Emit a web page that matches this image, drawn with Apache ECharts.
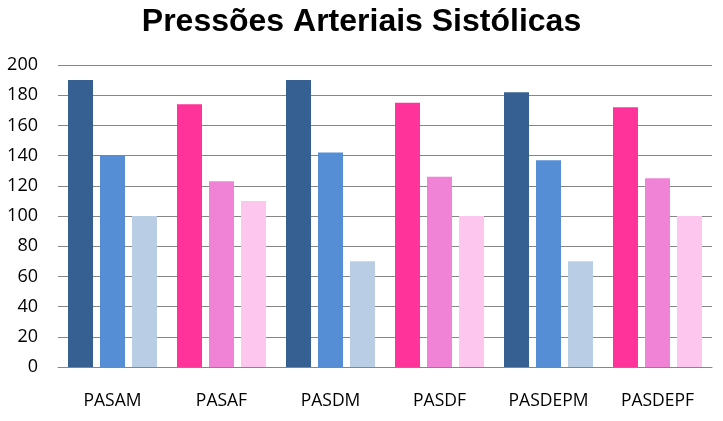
<!DOCTYPE html>
<html>
<head>
<meta charset="utf-8">
<script src="https://cdn.jsdelivr.net/npm/echarts@6/dist/echarts.min.js"></script>
<style>html,body{margin:0;padding:0;background:#fff}#c{width:723px;height:421px}</style>
</head>
<body>
<div id="c"></div>
<script>
const categories = ['PASAM', 'PASAF', 'PASDM', 'PASDF', 'PASDEPM', 'PASDEPF'];
const sexes = ['M', 'F', 'M', 'F', 'M', 'F'];
const serie1 = [190, 174, 190, 175, 182, 172];
const serie2 = [140, 123, 142, 126, 137, 125];
const serie3 = [100, 110, 70, 100, 70, 100];
const yTicks = [0, 20, 40, 60, 80, 100, 120, 140, 160, 180, 200];

const palette = {
  M: ['#366092', '#558ED5', '#B9CDE5'],
  F: ['#FF3399', '#F083D6', '#FCC6EE']
};

function build(values, idx) {
  return values.map((v, i) => ({ value: v, itemStyle: { color: palette[sexes[i]][idx] } }));
}

const chart = echarts.init(document.getElementById('c'), null, { renderer: 'canvas' });
const lab = { fontFamily: 'Open Sans', color: '#000' };
chart.setOption({
  animation: false,
  title: {
    text: 'Pressões Arteriais Sistólicas',
    left: 'center', top: 1,
    textStyle: { fontFamily: 'Liberation Sans, Arial', fontWeight: 'bold', fontSize: 32, color: '#000' }
  },
  grid: { left: 58, right: 11, top: 65, bottom: 54, containLabel: false },
  xAxis: {
    type: 'category', data: categories,
    axisTick: { show: false },
    axisLine: { lineStyle: { color: '#868686', width: 1 } },
    axisLabel: Object.assign({ fontSize: 17.5, margin: 25 }, lab)
  },
  yAxis: {
    type: 'value', min: yTicks[0], max: yTicks[yTicks.length - 1], interval: 20,
    axisLine: { show: false },
    axisTick: { show: false },
    splitLine: { lineStyle: { color: '#868686', width: 1 } },
    axisLabel: Object.assign({ fontSize: 18, margin: 20 }, lab)
  },
  series: [
    { type: 'bar', data: build(serie1, 0), barWidth: 25, barGap: '28%' },
    { type: 'bar', data: build(serie2, 1), barWidth: 25, barGap: '28%' },
    { type: 'bar', data: build(serie3, 2), barWidth: 25, barGap: '28%' }
  ]
});
</script>
</body>
</html>
